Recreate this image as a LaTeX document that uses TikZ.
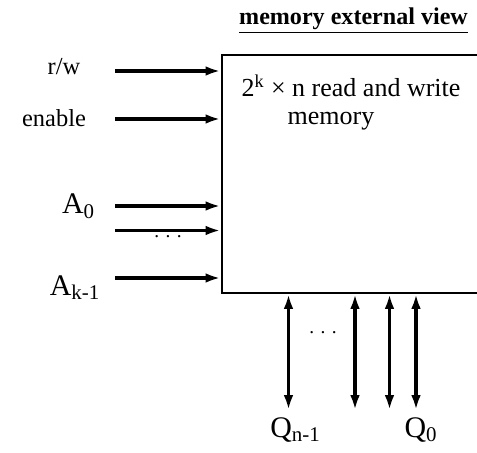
\documentclass[tikz,border=0pt]{standalone}
\usepackage{fontspec}
\setmainfont{Liberation Serif}
\usepackage{tikz}
\usetikzlibrary{shapes.geometric, arrows, arrows.meta, positioning}

\begin{document}
\begin{tikzpicture}[
  sig/.style={-{Latex[length=8.5pt,width=5.5pt]}, line width=1.8pt},
  bus/.style={{Latex[length=8.5pt,width=5.5pt]}-{Latex[length=8.5pt,width=5.5pt]}, line width=1.8pt},
  lbl/.style={anchor=base, inner sep=0pt, font=\fontsize{13.9}{16}\selectfont},
  big/.style={anchor=base, inner sep=0pt, font=\fontsize{17}{20}\selectfont}]
  \useasboundingbox (0,0) rectangle (9.54,9.04);

  % memory block, open to the right
  \node[draw, line width=1.2pt, anchor=south west, inner sep=0pt,
        minimum width=5.6cm, minimum height=4.76cm] (mem) at (4.41,3.16) {};
  \node[lbl, font=\fontsize{14.8}{17}\selectfont] (memtxt) at (7.02,7.10) {2\textsuperscript{k} × n read and write};
  \node[lbl, font=\fontsize{14.8}{17}\selectfont] (memtxtb) at (6.62,6.54) {memory};

  \node[lbl, font=\fontsize{13.7}{16}\selectfont\bfseries] (title) at (7.07,8.54) {\underline{memory external view}};

  % inputs
  \node[lbl] (rw) at (1.28,7.54) {r/w};
  \node[lbl] (en) at (1.08,6.50) {enable};
  \node[big] (a0) at (1.57,4.76) {A\textsubscript{0}};
  \node[big] (ak) at (1.50,3.14) {A\textsubscript{k-1}};
  \node[lbl, font=\fontsize{11}{13}\selectfont] (adots) at (3.36,4.28) {. . .};

  \coordinate (rwin) at (2.30,7.62);
  \coordinate (enin) at (2.30,6.66);
  \coordinate (a0in) at (2.30,4.92);
  \coordinate (a1in) at (2.30,4.43);
  \coordinate (akin) at (2.30,3.48);
  \foreach \c in {rwin, enin, a0in, a1in, akin}
    \draw[sig] (\c) -- (\c -| mem.west);

  % outputs
  \coordinate (qa) at (5.77,0.84);
  \coordinate (qb) at (7.10,0.84);
  \coordinate (qc) at (7.79,0.84);
  \coordinate (qd) at (8.32,0.84);
  \foreach \c in {qa, qb, qc, qd}
    \draw[bus] (\c) -- (\c |- mem.south);
  \node[lbl, font=\fontsize{11}{13}\selectfont] (qdots) at (6.46,2.38) {. . .};

  \node[big] (qn) at (5.91,0.30) {Q\textsubscript{n-1}};
  \node[big] (q0) at (8.42,0.30) {Q\textsubscript{0}};
\end{tikzpicture}
\end{document}
